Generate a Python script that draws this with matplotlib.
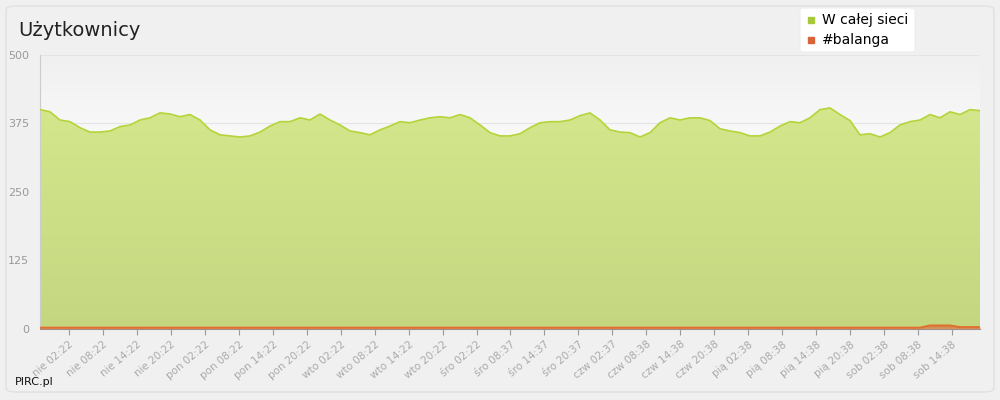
import matplotlib
matplotlib.use("Agg")
import matplotlib.pyplot as plt
import numpy as np
from matplotlib.patches import FancyBboxPatch

tick_labels = ["nie 02:22","nie 08:22","nie 14:22","nie 20:22","pon 02:22","pon 08:22","pon 14:22","pon 20:22",
               "wto 02:22","wto 08:22","wto 14:22","wto 20:22","śro 02:22","śro 08:37","śro 14:37","śro 20:37",
               "czw 02:37","czw 08:38","czw 14:38","czw 20:38","pią 02:38","pią 08:38","pią 14:38","pią 20:38",
               "sob 02:38","sob 08:38","sob 14:38"]
# line y-pixels sampled every 10px from x=40 to 980 in reference, converted to values
ypix = [110,112,120,122,128,132,132,131,127,125,120,118,113,114,117,115,120,130,135,136,137,136,132,126,122,122,118,120,114,120,
        125,131,133,135,130,126,122,123,120,118,117,118,115,118,125,133,136,136,134,128,123,122,122,120,116,113,120,130,132,133,
        137,133,123,118,120,118,118,121,129,131,133,136,136,132,126,122,123,118,110,108,115,121,135,134,137,133,125,122,120,115,
        118,112,115,110,111]
total = [round((329 - y) / 0.548) for y in ypix]
balanga = [2]*89 + [6,6,6,3,3,3]
balanga = balanga[:len(total)]

t = np.linspace(-0.854, 27.68 - 0.854, len(total))

fig = plt.figure(figsize=(10, 4), dpi=100)
fig.patch.set_facecolor("#f0f0f0")
fig.patches.append(FancyBboxPatch((0.006, 0.02), 0.988, 0.965, boxstyle="round,pad=0,rounding_size=0.01",
                                  transform=fig.transFigure, facecolor="#f0f0f0", edgecolor="#e0e0e0", lw=1, zorder=-10))
ax = fig.add_axes([0.04, 0.178, 0.94, 0.685])
grad = np.linspace(0, 1, 256).reshape(-1, 1)
ax.imshow(grad, extent=[t[0], t[-1], 0, 500], aspect="auto", origin="lower",
          cmap=matplotlib.colors.LinearSegmentedColormap.from_list("bg", ["#ffffff", "#ffffff", "#f0f0f0"]), zorder=0)
poly = ax.fill_between(t, 0, total, color="none", zorder=2)
img = ax.imshow(np.linspace(0, 1, 256).reshape(-1, 1), extent=[t[0], t[-1], 0, 410], aspect="auto", origin="lower",
                cmap=matplotlib.colors.LinearSegmentedColormap.from_list("ar", ["#c4d680", "#d5e78c"]), zorder=2)
img.set_clip_path(poly.get_paths()[0], transform=ax.transData)
ax.plot(t, total, color="#b4d43a", lw=1.2, zorder=3)
ax.fill_between(t, 0, balanga, color="#d9643a", alpha=0.6, zorder=4, lw=0)
ax.plot(t, balanga, color="#e07030", lw=1.5, zorder=4)
ax.set_xlim(t[0], t[-1])
ax.set_ylim(0, 500)

for yv in [125, 250, 375, 500]:
    ax.axhline(yv, color="#e4e4e4", lw=0.8, zorder=1)
ax.set_yticks([0, 125, 250, 375, 500])
ax.set_xticks(range(len(tick_labels)))
ax.set_xticklabels(tick_labels, rotation=40, ha="right", rotation_mode="anchor", fontsize=7.5, color="#aaaaaa")
ax.tick_params(axis="y", length=0, labelsize=8, labelcolor="#999999", pad=8)
ax.tick_params(axis="x", length=4, color="#999999")
for s in ["top", "right"]:
    ax.spines[s].set_visible(False)
ax.spines["left"].set_color("#cccccc")
ax.spines["bottom"].set_color("#999999")

fig.text(0.018, 0.925, "Użytkownicy", fontsize=14, color="#222222", va="center")
fig.text(0.015, 0.045, "PIRC.pl", fontsize=8, color="#111111", va="center")
fig.patches.append(FancyBboxPatch((0.8, 0.87), 0.115, 0.11, boxstyle="round,pad=0,rounding_size=0.005",
                                  transform=fig.transFigure, facecolor="white", edgecolor="#eeeeee", lw=0.8, zorder=5))
fig.patches.append(plt.Rectangle((0.808, 0.943), 0.006, 0.015, transform=fig.transFigure, color="#a8c83a", zorder=6))
fig.patches.append(plt.Rectangle((0.808, 0.893), 0.006, 0.015, transform=fig.transFigure, color="#d9643a", zorder=6))
fig.text(0.822, 0.951, "W całej sieci", fontsize=10, va="center", zorder=7)
fig.text(0.822, 0.9, "#balanga", fontsize=10, va="center", zorder=7)
fig.savefig("out.png", dpi=100, facecolor=fig.get_facecolor())
